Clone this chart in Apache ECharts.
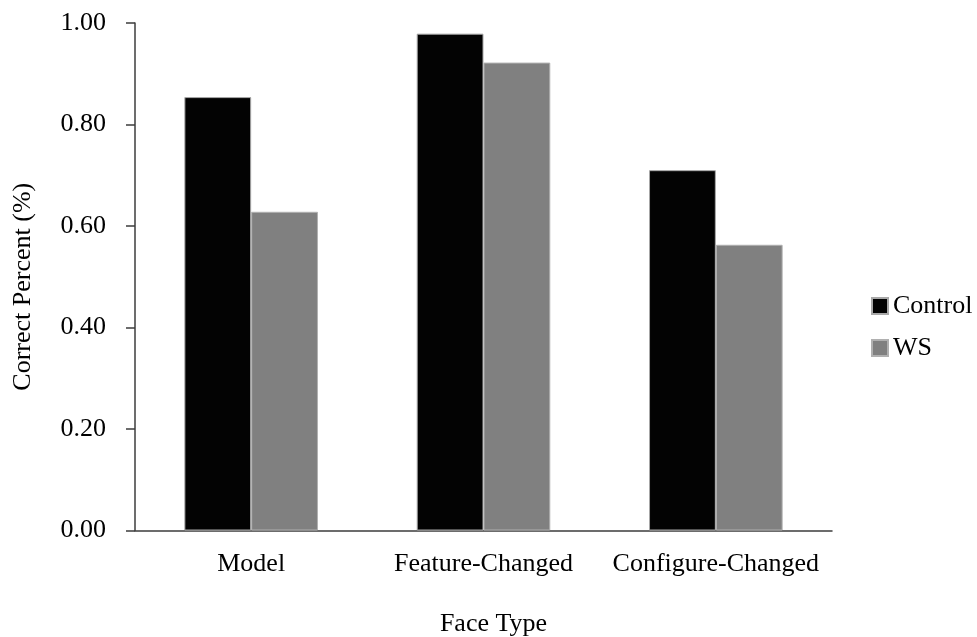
<!DOCTYPE html>
<html>
<head>
<meta charset="utf-8">
<script src="https://cdn.jsdelivr.net/npm/echarts@6/dist/echarts.min.js"></script>
<style>
  html, body { margin: 0; padding: 0; background: #ffffff; }
  #chart { width: 977px; height: 637px; }
</style>
</head>
<body>
<div id="chart"></div>
<script>
// Face types on the horizontal axis
const categories = ['Model', 'Feature-Changed', 'Configure-Changed'];
// Proportion correct per group
const controlValues = [0.854, 0.979, 0.710];
const wsValues = [0.628, 0.922, 0.563];
// Value-axis tick labels
const yTickLabels = ['0.00', '0.20', '0.40', '0.60', '0.80', '1.00'];

const FONT = '"Liberation Serif", "DejaVu Serif", serif';
const TEXT_COLOR = '#000000';
const AXIS_COLOR = '#3c3c3c';

const chart = echarts.init(document.getElementById('chart'), null, { renderer: 'canvas' });

chart.setOption({
  backgroundColor: '#ffffff',
  animation: false,
  textStyle: { fontFamily: FONT, color: TEXT_COLOR },
  grid: {
    left: 135, right: 145, top: 23, bottom: 106.5,
    containLabel: false,
    outerBoundsMode: 'none'
  },
  legend: {
    orient: 'vertical',
    left: 866,
    top: 288,
    itemWidth: 16,
    itemHeight: 16,
    itemGap: 16,
    icon: 'rect',
    textStyle: { fontFamily: FONT, fontSize: 26, color: TEXT_COLOR },
    data: ['Control', 'WS']
  },
  xAxis: {
    type: 'category',
    data: categories,
    name: 'Face Type',
    nameLocation: 'middle',
    nameGap: 81,
    nameTextStyle: { fontFamily: FONT, fontSize: 26, color: TEXT_COLOR, padding: [0, 0, 0, 20] },
    axisLine: { show: true, lineStyle: { color: AXIS_COLOR, width: 1.5 } },
    axisTick: { show: false },
    axisLabel: { interval: 0, hideOverlap: false, margin: 21, fontFamily: FONT, fontSize: 26, color: TEXT_COLOR },
    splitLine: { show: false }
  },
  yAxis: {
    type: 'value',
    min: 0,
    max: 1,
    interval: 0.2,
    name: 'Correct Percent (%)',
    nameLocation: 'middle',
    nameGap: 99,
    nameRotate: 90,
    nameTextStyle: { fontFamily: FONT, fontSize: 26, color: TEXT_COLOR, padding: [0, 20, 0, 0] },
    axisLine: { show: true, lineStyle: { color: AXIS_COLOR, width: 1.5 } },
    axisTick: { show: true, inside: false, length: 9, lineStyle: { color: AXIS_COLOR, width: 1.5 } },
    axisLabel: {
      margin: 29,
      fontFamily: FONT,
      fontSize: 26,
      color: TEXT_COLOR,
      formatter: (v) => yTickLabels[Math.round(v / 0.2)]
    },
    splitLine: { show: false }
  },
  series: [
    {
      name: 'Control',
      type: 'bar',
      data: controlValues,
      barGap: '0%',
      barCategoryGap: '42.5%',
      itemStyle: { color: '#030303', borderColor: '#a8a8a8', borderWidth: 1 }
    },
    {
      name: 'WS',
      type: 'bar',
      data: wsValues,
      barGap: '0%',
      barCategoryGap: '42.5%',
      itemStyle: { color: '#808080', borderColor: '#b0b0b0', borderWidth: 1 }
    }
  ]
});
</script>
</body>
</html>
